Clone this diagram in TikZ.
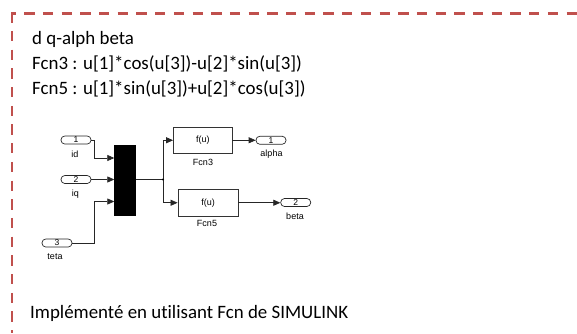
\documentclass[tikz,border=0pt]{standalone}
\usepackage{fontspec}
\setmainfont{Carlito}[Ligatures=NoCommon]
\newfontfamily\simfont{Liberation Sans}
\usetikzlibrary{arrows.meta}
\definecolor{framered}{HTML}{C0504D}
\tikzset{
  frameline/.style={draw=framered,line width=2.5pt},
  bigtext/.style={anchor=base west,inner sep=0pt,font=\fontsize{18.9}{22}\selectfont},
  port/.style={draw=black!85,line width=0.7pt,rounded corners=3.8pt,minimum width=30pt,minimum height=8pt,inner sep=0pt,font=\simfont\fontsize{8.5}{8}\selectfont},
  fcnbox/.style={draw=black!80,line width=0.8pt,inner sep=0pt,font=\simfont\fontsize{9}{10}\selectfont},
  smalllabel/.style={inner sep=0pt,font=\simfont\fontsize{9}{10}\selectfont},
  sig/.style={draw=black!85,line width=0.7pt},
  sigarrow/.style={sig,-{Triangle[length=7pt,width=6pt]}},
}
\begin{document}
\begin{tikzpicture}[x=1pt,y=-1pt]
\useasboundingbox (0,0) rectangle (577,333);
% dashed frame
\draw[frameline,dash pattern=on 10.3pt off 8.4pt,dash phase=6.5pt] (12,13.5) -- (577,13.5);
\draw[frameline,dash pattern=on 10.3pt off 8.4pt] (12,12.25) -- (12,333);
% texts
\node[bigtext] (t1) at (32,44) {d q-alph beta};
\node[bigtext] (t2) at (32,69) {Fcn3 : u[1]*cos(u[3])-u[2]*sin(u[3])};
\node[bigtext] (t3) at (32,94.5) {Fcn5 : u[1]*sin(u[3])+u[2]*cos(u[3])};
\node[bigtext] (t4) at (30,318.5) {Implémenté en utilisant Fcn de SIMULINK};
% inports
\node[port] (in1) at (76,140) {1};
\node[port] (in2) at (76,179.5) {2};
\node[port] (in3) at (57,243) {3};
\node[smalllabel] (lid) at (75,154) {id};
\node[smalllabel] (liq) at (75.5,194) {iq};
\node[smalllabel] (lteta) at (55,257) {teta};
% mux
\node[fill=black,draw=black,minimum width=21pt,minimum height=70pt,inner sep=0pt] (mux) at (125,180) {};
% fcn blocks
\node[fcnbox,minimum width=58.5pt,minimum height=26.5pt] (fcn3) at (202.75,140.25) {f(u)};
\node[fcnbox,minimum width=60pt,minimum height=26.5pt] (fcn5) at (208,202.75) {f(u)};
\node[smalllabel] (lfcn3) at (203,162.5) {Fcn3};
\node[smalllabel] (lfcn5) at (207,223.5) {Fcn5};
% outports
\node[port] (out1) at (271,140.25) {1};
\node[port] (out2) at (295.7,202.5) {2};
\node[smalllabel] (lalpha) at (271.5,154.5) {alpha};
\node[smalllabel] (lbeta) at (295,216.5) {beta};
% junction
\coordinate (j) at (163,179.5);
\coordinate (jt) at (163,140.25);
\coordinate (jb) at (163,202.75);
% connections
\draw[sigarrow] (in1.east) -- (94.5,140) |- (mux.west |- 0,158);
\draw[sigarrow] (in2.east) -- (mux.west |- in2);
\draw[sigarrow] (in3.east) -- (94,243) |- (mux.west |- 0,201.5);
\draw[sig] (mux.east |- j) -- (j);
\draw[sig] (jt) -- (jb);
\fill[black] (j) circle (1.1pt);
\draw[sigarrow] (jt) -- (fcn3.west);
\draw[sigarrow] (jb) -- (fcn5.west);
\draw[sigarrow] (fcn3.east) -- (out1.west);
\draw[sigarrow] (fcn5.east) -- (out2.west |- fcn5.east);
\end{tikzpicture}
\end{document}
